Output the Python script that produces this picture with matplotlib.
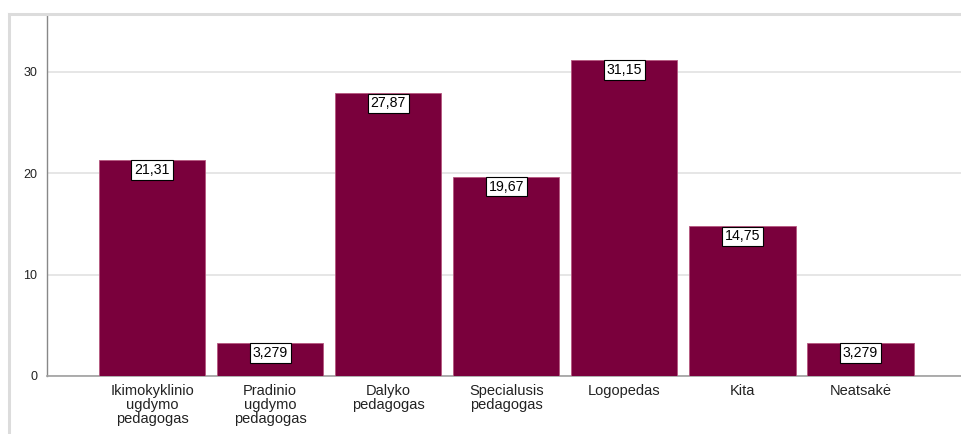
import matplotlib
matplotlib.use("Agg")
import matplotlib.pyplot as plt
from matplotlib.lines import Line2D

categories = [
    "Ikimokyklinio\nugdymo\npedagogas",
    "Pradinio\nugdymo\npedagogas",
    "Dalyko\npedagogas",
    "Specialusis\npedagogas",
    "Logopedas",
    "Kita",
    "Neatsakė",
]
values = [21.31, 3.279, 27.87, 19.67, 31.15, 14.75, 3.279]
value_labels = ["21,31", "3,279", "27,87", "19,67", "31,15", "14,75", "3,279"]
yticks = [0, 10, 20, 30]

plt.rcParams["font.family"] = ["Liberation Sans", "DejaVu Sans"]

W, H = 962, 434
fig = plt.figure(figsize=(W / 100, H / 100), dpi=100)
fig.patch.set_facecolor("white")

# outer light frame (chart is cropped on right/bottom)
fig.add_artist(Line2D([8.5 / W, 8.5 / W], [0, 1 - 13.5 / H], color="#dcdcdc", lw=2.2))
fig.add_artist(Line2D([8.5 / W, 1], [1 - 13.5 / H, 1 - 13.5 / H], color="#dcdcdc", lw=2.2))

ax = fig.add_axes([47 / W, 58 / H, (W - 47) / W, (376 - 15) / H])
x = list(range(len(categories)))
ax.bar(x, values, width=0.9, color="#7a003c", edgecolor="#b5577f", linewidth=0.6, zorder=3)

for xi, v, lab in zip(x, values, value_labels):
    ax.text(xi, v - 0.3, lab, ha="center", va="top", fontsize=10.2, color="black", zorder=4,
            bbox=dict(boxstyle="square,pad=0.2", facecolor="white", edgecolor="black", linewidth=0.8))

ax.set_xlim(-0.89, 6.86)
ax.set_ylim(0, 35.6)
ax.set_yticks(yticks)
ax.set_xticks(x)
ax.set_xticklabels(categories, fontsize=10.5, linespacing=1.0)
ax.tick_params(axis="y", length=0, pad=7, labelsize=9, colors="#222222")
ax.tick_params(axis="x", length=0, pad=6, colors="#222222")
ax.yaxis.grid(True, color="#e6e6e6", linewidth=1.4, zorder=0)
ax.set_axisbelow(True)

for s in ["top", "right"]:
    ax.spines[s].set_visible(False)
ax.spines["left"].set_color("#888888")
ax.spines["left"].set_linewidth(1.0)
ax.spines["bottom"].set_color("#a0a0a0")
ax.spines["bottom"].set_linewidth(1.2)

fig.savefig("out.png", dpi=100)
